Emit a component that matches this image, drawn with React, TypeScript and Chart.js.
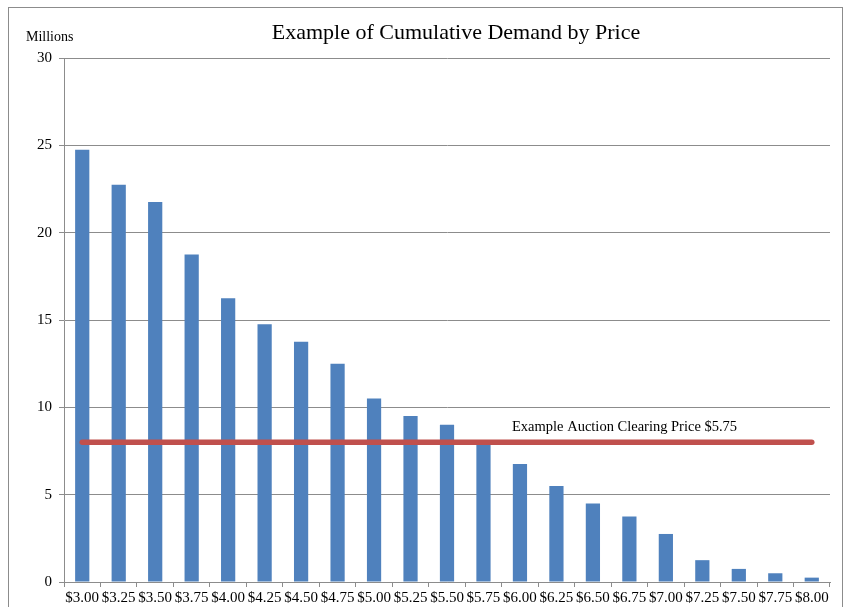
import React, { useEffect, useRef } from "react";
import { Chart, registerables } from "chart.js";

Chart.register(...registerables);

const categories = [
  "$3.00", "$3.25", "$3.50", "$3.75", "$4.00", "$4.25", "$4.50", "$4.75",
  "$5.00", "$5.25", "$5.50", "$5.75", "$6.00", "$6.25", "$6.50", "$6.75",
  "$7.00", "$7.25", "$7.50", "$7.75", "$8.00",
];

const demandMillions = [
  24.75, 22.75, 21.75, 18.75, 16.25, 14.75, 13.75, 12.5,
  10.5, 9.5, 9.0, 8.0, 6.75, 5.5, 4.5, 3.75,
  2.75, 1.25, 0.75, 0.5, 0.25,
];

const clearingLevel = 8;
const clearingLabel = "Example Auction Clearing Price $5.75";
const chartTitle = "Example of Cumulative Demand by Price";
const yAxisUnit = "Millions";
const yTicks = [0, 5, 10, 15, 20, 25, 30];

const SERIF = "'Liberation Serif', 'Times New Roman', serif";

const decorPlugin = {
  id: "decor",
  beforeDraw(chart: any) {
    const { ctx, width, height } = chart;
    ctx.save();
    ctx.fillStyle = "#ffffff";
    ctx.fillRect(0, 0, width, height);
    ctx.restore();
  },
  afterDraw(chart: any) {
    const { ctx } = chart;
    const y = chart.scales.y;
    ctx.save();
    // outer frame
    ctx.strokeStyle = "#8c8c8c";
    ctx.lineWidth = 1;
    ctx.strokeRect(8.5, 7.5, 834, 640);
    // title
    ctx.fillStyle = "#000000";
    ctx.font = `22px ${SERIF}`;
    ctx.textAlign = "center";
    ctx.textBaseline = "alphabetic";
    ctx.fillText(chartTitle, 456, 39);
    // unit label
    ctx.font = `14px ${SERIF}`;
    ctx.textAlign = "left";
    ctx.fillText(yAxisUnit, 26, 41);
    // annotation
    ctx.font = `14.5px ${SERIF}`;
    ctx.fillText(clearingLabel, 512, y.getPixelForValue(clearingLevel) - 11);
    ctx.restore();
  },
};

export default function App() {
  const ref = useRef<HTMLCanvasElement | null>(null);

  useEffect(() => {
    if (!ref.current) return;
    const chart = new Chart(ref.current, {
      type: "bar",
      data: {
        labels: categories,
        datasets: [
          {
            type: "line",
            label: "Clearing",
            data: categories.map(() => clearingLevel),
            borderColor: "#c0504d",
            borderWidth: 5.5,
            borderCapStyle: "round",
            pointRadius: 0,
            fill: false,
            order: 0,
          } as any,
          {
            type: "bar",
            label: "Demand",
            data: demandMillions,
            backgroundColor: "#4f81bd",
            borderWidth: 0,
            categoryPercentage: 1,
            barPercentage: 0.39,
            order: 1,
          } as any,
        ],
      },
      options: {
        responsive: false,
        animation: false,
        events: [],
        layout: { padding: { top: 58, left: 0, right: 16, bottom: 0 } },
        plugins: {
          legend: { display: false },
          title: { display: false },
          tooltip: { enabled: false },
        },
        scales: {
          x: {
            offset: true,
            grid: {
              offset: true,
              drawOnChartArea: false,
              drawTicks: true,
              tickLength: 5,
              color: "#8c8c8c",
            },
            border: { color: "#8c8c8c", width: 1 },
            ticks: {
              autoSkip: false,
              maxRotation: 0,
              minRotation: 0,
              padding: 2,
              color: "#000000",
              font: { family: SERIF, size: 15 },
            },
            afterFit(scale: any) {
              scale.height = 25;
            },
          },
          y: {
            min: 0,
            max: 30,
            afterBuildTicks(scale: any) {
              scale.ticks = yTicks.map((v) => ({ value: v }));
            },
            grid: {
              color: "#8c8c8c",
              drawTicks: true,
              tickLength: 5,
            },
            border: { color: "#8c8c8c", width: 1 },
            ticks: {
              padding: 7,
              color: "#000000",
              font: { family: SERIF, size: 15 },
            },
            afterFit(scale: any) {
              scale.width = 64;
            },
          },
        },
      },
      plugins: [decorPlugin],
    });
    return () => chart.destroy();
  }, []);

  return (
    <div style={{ position: "absolute", left: 0, top: 0, width: 846, height: 607 }}>
      <canvas ref={ref} width={846} height={607} style={{ display: "block" }} />
    </div>
  );
}
